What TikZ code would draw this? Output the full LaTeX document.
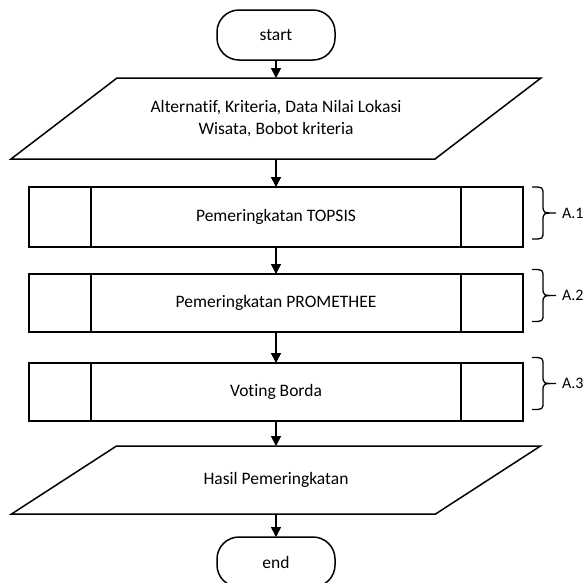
\documentclass[tikz,border=0pt]{standalone}
\usepackage{fontspec}
\setmainfont{Carlito}[Ligatures={NoCommon}]
\usetikzlibrary{arrows.meta}
\begin{document}
\begin{tikzpicture}[x=1pt,y=-1pt,
  every node/.style={font=\fontsize{17.5}{22}\selectfont, inner sep=0pt, outer sep=0pt},
  thick line/.style={line width=1.5pt},
  flow/.style={thick line, -{Triangle[length=10pt,width=10pt]}},
  terminal/.style={draw, thick line, rounded corners=22pt,
    minimum width=118pt, minimum height=50pt},
  iobody/.style={minimum width=424pt, minimum height=#1, align=center},
  process/.style={draw, thick line, minimum width=494pt, minimum height=#1,
    path picture={
      \draw[line width=1.2pt]
        ([xshift=62pt]path picture bounding box.north west) --
        ([xshift=62pt]path picture bounding box.south west);
      \draw[line width=1.2pt]
        ([xshift=-62pt]path picture bounding box.north east) --
        ([xshift=-62pt]path picture bounding box.south east);
    }},
  pics/curly/.style={code={
    \draw[line width=1.3pt]
      (0,-26) .. controls (11,-26) .. (11,-18) -- (11,-8)
      .. controls (11,0) .. (24,0)
      .. controls (11,0) .. (11,8) -- (11,18)
      .. controls (11,26) .. (0,26);
  }},
  tag/.style={anchor=west, font=\fontsize{16}{20}\selectfont}
]
\useasboundingbox (0,0) rectangle (588,582);
\clip (0,0) rectangle (588,582);

% terminals
\node[terminal] (start) at (276,35) {start};
\node[terminal] (end) at (276,562) {end};

% input: parallelogram drawn around an invisible body node
\node[iobody=81pt] (in) at (276,118.5)
  {\vspace*{5pt}Alternatif, Kriteria, Data Nilai Lokasi\\Wisata, Bobot kriteria};
\draw[thick line] ([xshift=53pt]in.north west) -- ([xshift=53pt]in.north east)
  -- ([xshift=-53pt]in.south east) -- ([xshift=-53pt]in.south west) -- cycle;

% predefined processes
\node[process=60pt] (topsis) at (276,217) {Pemeringkatan TOPSIS};
\node[process=58pt] (prom) at (276,303) {Pemeringkatan PROMETHEE};
\node[process=58pt] (borda) at (276,392) {Voting Borda};

% output parallelogram
\node[iobody=68pt] (out) at (276,480) {Hasil Pemeringkatan};
\draw[thick line] ([xshift=52.5pt]out.north west) -- ([xshift=52.5pt]out.north east)
  -- ([xshift=-52.5pt]out.south east) -- ([xshift=-52.5pt]out.south west) -- cycle;

% flow arrows
\draw[flow] (start.south) -- (in.north);
\draw[flow] (in.south) -- (topsis.north);
\draw[flow] (topsis.south) -- (prom.north);
\draw[flow] (prom.south) -- (borda.north);
\draw[flow] (borda.south) -- (out.north);
\draw[flow] (out.south) -- (end.north);

% braces with step labels
\pic at (532,213) {curly};
\node[tag] (a1) at (562,213) {A.1};
\pic at (532,295.5) {curly};
\node[tag] (a2) at (562,295.5) {A.2};
\pic at (532,383.5) {curly};
\node[tag] (a3) at (562,383.5) {A.3};
\end{tikzpicture}
\end{document}
